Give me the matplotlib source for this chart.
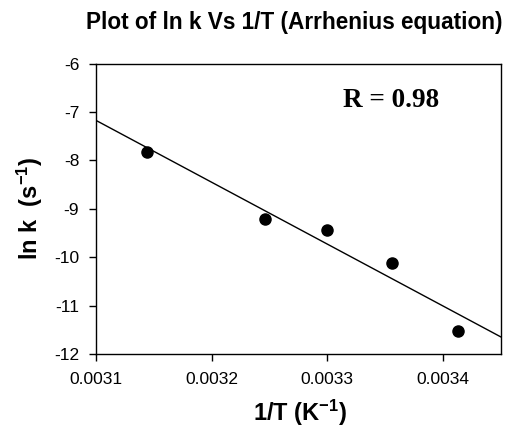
import matplotlib
matplotlib.use("Agg")
import matplotlib.pyplot as plt
import numpy as np

# data
inv_T = [0.003144, 0.003246, 0.003300, 0.003356, 0.003413]
ln_k = [-7.82, -9.21, -9.43, -10.12, -11.53]

x_ticks = [0.0031, 0.0032, 0.0033, 0.0034]
y_ticks = [-12, -11, -10, -9, -8, -7, -6]

plt.rcParams['font.family'] = ['Liberation Sans', 'DejaVu Sans']
plt.rcParams['axes.unicode_minus'] = False
plt.rcParams['mathtext.fontset'] = 'custom'
plt.rcParams['mathtext.rm'] = 'Liberation Sans:bold'
plt.rcParams['mathtext.bf'] = 'Liberation Sans:bold'
plt.rcParams['mathtext.default'] = 'bf'

fig = plt.figure(figsize=(5.1, 4.32), dpi=100)
ax = fig.add_axes([0.188, 0.180, 0.794, 0.673])

ax.scatter(inv_T, ln_k, s=64, color='black', zorder=3)

# linear regression line
slope, intercept = np.polyfit(inv_T, ln_k, 1)
xl = np.array([0.0031, 0.00345])
ax.plot(xl, slope * xl + intercept, color='black', lw=1)
r = abs(np.corrcoef(inv_T, ln_k)[0, 1])

ax.set_xlim(0.0031, 0.00345)
ax.set_ylim(-12, -6)
ax.set_xticks(x_ticks)
ax.set_xticklabels([f"{t:.4f}" for t in x_ticks])
ax.set_yticks(y_ticks)
ax.set_yticklabels([str(t) for t in y_ticks])
ax.tick_params(direction='out', length=5, width=1, labelsize=12.5)
ax.tick_params(axis='x', pad=8)
ax.tick_params(axis='y', pad=7)
for s in ax.spines.values():
    s.set_linewidth(1)

ax.text(0.61, 0.874, f"R = {r:.2f}", transform=ax.transAxes,
        family=['Liberation Serif'], fontweight='bold', fontsize=19.5,
        va='center', ha='left')

# axis labels
fig.text(300 / 510, 1 - 413 / 432, "1/T (K$^{-1}$)",
         fontsize=17, fontweight='bold', ha='center', va='center')
fig.text(30 / 510, 1 - 208 / 432, "ln k  (s$^{-1}$)", rotation=90,
         fontsize=17, fontweight='bold', ha='center', va='center')

fig.text(294 / 510, 1 - 22 / 432, "Plot of ln k Vs 1/T (Arrhenius equation)",
         ha='center', va='center', fontsize=16.3, fontweight='bold')

fig.savefig("out.png", dpi=100)
